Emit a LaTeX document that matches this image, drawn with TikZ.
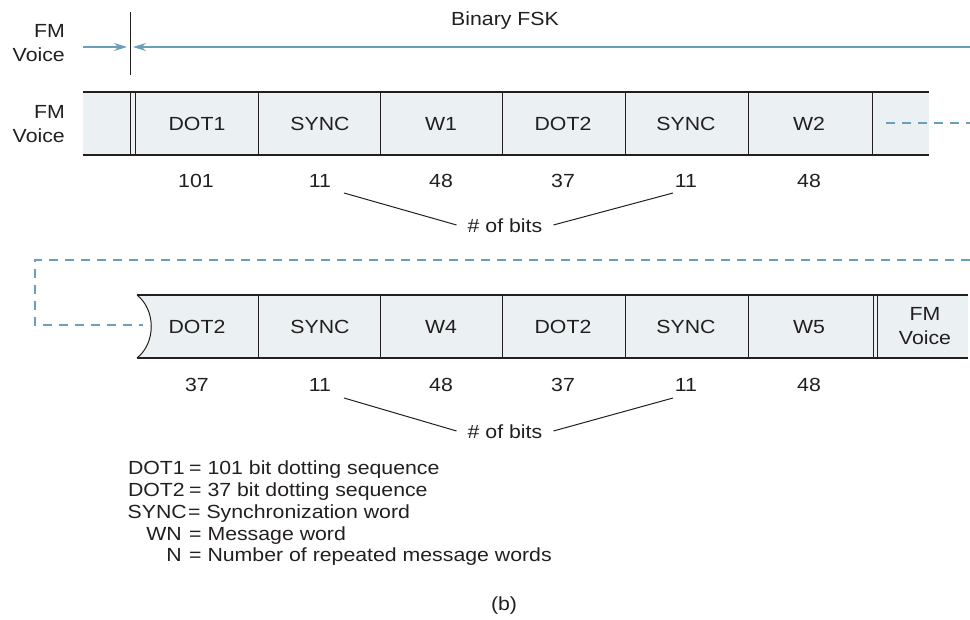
\documentclass[tikz,border=0pt]{standalone}
\usepackage{fontspec}
\setmainfont{Liberation Sans}[FakeStretch=1.12]
\usetikzlibrary{arrows.meta}
\definecolor{cellfill}{HTML}{EBF0F3}
\definecolor{bluel}{HTML}{6A9FBA}
\definecolor{ink}{HTML}{231F20}
\tikzset{
  txt/.style={font=\fontsize{19}{23.5}\selectfont, text=ink, inner sep=0pt},
  two/.style={txt, align=center},
  twor/.style={txt, align=right},
  bandline/.style={draw=ink, line width=1.7pt},
  divider/.style={draw=ink, line width=1pt},
  dashblue/.style={draw=bluel, line width=1.2pt, dash pattern=on 9pt off 7pt},
  bitline/.style={draw=ink, line width=1pt},
  bluearrow/.style={draw=bluel, line width=1.2pt, -{Stealth[length=13pt,width=8pt,fill=bluel]}}
}
\begin{document}
\begin{tikzpicture}[x=1pt,y=-1pt]
\useasboundingbox (0,0) rectangle (970,620);
% ---------- top marker
\node[twor, anchor=east] (fmv0) at (65,43) {FM\\Voice};
\node[txt] (bfsk) at (505,21) {Binary FSK};
\coordinate (mtop) at (130,12);
\coordinate (mbot) at (130,75);
\draw[ink, line width=1pt] (mtop) -- (mbot);
\coordinate (la) at (83,47);
\coordinate (lb) at (127,47);
\coordinate (ra) at (970,47);
\coordinate (rb) at (133,47);
\draw[bluearrow] (la) -- (lb);
\draw[bluearrow] (ra) -- (rb);
% ---------- row 1
\fill[cellfill] (83,92) rectangle (929,155);
\draw[bandline] (83,92) -- (929,92);
\draw[bandline] (83,155) -- (929,155);
\foreach \x in {130,135,258,380,502,625,748,872}
  \draw[divider] (\x,92) -- (\x,155);
\node[twor, anchor=east] (fmv1) at (65,124) {FM\\Voice};
\node[txt] (c1) at (197,124) {DOT1};
\node[txt] (c2) at (320,124) {SYNC};
\node[txt] (c3) at (441,124) {W1};
\node[txt] (c4) at (563,124) {DOT2};
\node[txt] (c5) at (686,124) {SYNC};
\node[txt] (c6) at (809,124) {W2};
\coordinate (d1a) at (886,123);
\coordinate (d1b) at (970,123);
\draw[dashblue] (d1a) -- (d1b);
% numbers row 1
\node[txt] (n1) at (196,181) {101};
\node[txt] (n2) at (320,181) {11};
\node[txt] (n3) at (441,181) {48};
\node[txt] (n4) at (563,181) {37};
\node[txt] (n5) at (686,181) {11};
\node[txt] (n6) at (809,181) {48};
\node[txt] (bits1) at (505,226) {\# of bits};
\coordinate (b1l) at (344,193);
\coordinate (b1r) at (673,193);
\draw[bitline] (b1l) -- ([xshift=-11pt,yshift=1pt]bits1.west);
\draw[bitline] (b1r) -- ([xshift=11pt,yshift=1pt]bits1.east);
% ---------- dashed loop
\coordinate (lp1) at (970,260);
\coordinate (lp2) at (35,260);
\coordinate (lp3) at (35,325);
\coordinate (lp4) at (143,325);
\draw[dashblue] (lp1) -- (lp2) -- (lp3) -- (lp4);
% ---------- row 2
\fill[cellfill] (137,295) .. controls (156,310) and (156,343) .. (137,358) -- (968,358) -- (968,295) -- cycle;
\draw[bandline] (137,295) -- (968,295);
\draw[bandline] (137,358) -- (968,358);
\draw[divider] (137,295) .. controls (156,310) and (156,343) .. (137,358);
\foreach \x in {258,380,502,625,748,873,877}
  \draw[divider] (\x,295) -- (\x,358);
\node[txt] (e1) at (197,327) {DOT2};
\node[txt] (e2) at (320,327) {SYNC};
\node[txt] (e3) at (441,327) {W4};
\node[txt] (e4) at (563,327) {DOT2};
\node[txt] (e5) at (686,327) {SYNC};
\node[txt] (e6) at (809,327) {W5};
\node[two] (e7) at (925,326) {FM\\Voice};
% numbers row 2
\node[txt] (m1) at (197,385) {37};
\node[txt] (m2) at (320,385) {11};
\node[txt] (m3) at (441,385) {48};
\node[txt] (m4) at (563,385) {37};
\node[txt] (m5) at (686,385) {11};
\node[txt] (m6) at (809,385) {48};
\node[txt] (bits2) at (505,432) {\# of bits};
\coordinate (b2l) at (344,398);
\coordinate (b2r) at (673,398);
\draw[bitline] (b2l) -- ([xshift=-11pt,yshift=1pt]bits2.west);
\draw[bitline] (b2r) -- ([xshift=11pt,yshift=1pt]bits2.east);
% ---------- legend
\node[txt, anchor=base east] (k1) at (185,475) {DOT1};
\node[txt, anchor=base west] (v1) at (189,475) {= 101 bit dotting sequence};
\node[txt, anchor=base east] (k2) at (185,496.5) {DOT2};
\node[txt, anchor=base west] (v2) at (189,496.5) {= 37 bit dotting sequence};
\node[txt, anchor=base east] (k3) at (187,518) {SYNC};
\node[txt, anchor=base west] (v3) at (188,518) {= Synchronization word};
\node[txt, anchor=base east] (k4) at (182,540) {WN};
\node[txt, anchor=base west] (v4) at (189,540) {= Message word};
\node[txt, anchor=base east] (k5) at (182,561.5) {N};
\node[txt, anchor=base west] (v5) at (189,561.5) {= Number of repeated message words};
\node[txt] (cap) at (504,606) {(b)};
\end{tikzpicture}
\end{document}
